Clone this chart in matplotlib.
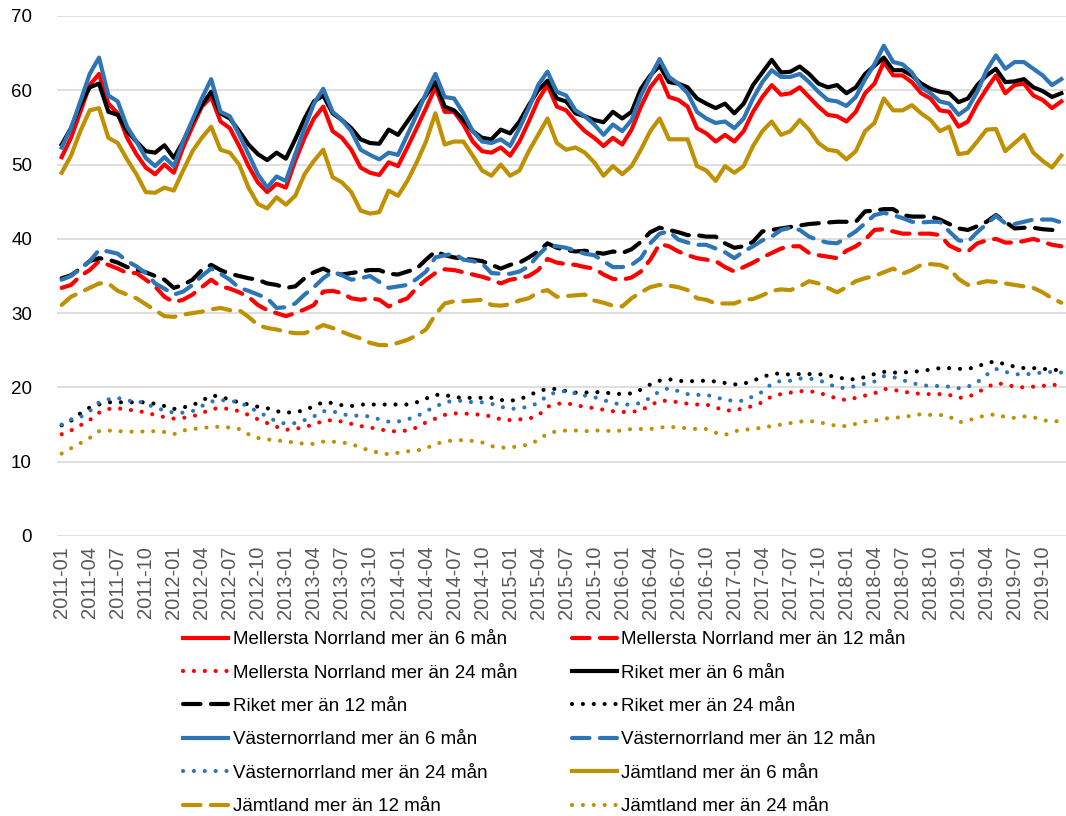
import matplotlib
matplotlib.use('Agg')
import matplotlib.pyplot as plt
import pandas as pd

# Months 2011-01 .. 2019-12
months = [p.strftime('%Y-%m') for p in pd.period_range('2011-01', '2019-12', freq='M')]

# ---- mer än 6 mån ----
mn_6 = [51.0, 53.6, 57.1, 60.7, 62.2, 58.2, 56.9, 53.6, 51.4, 49.6, 48.7, 50.0, 48.9, 52.3, 55.1, 57.8, 59.1, 55.8,
        54.9, 52.5, 49.8, 47.6, 46.3, 47.4, 46.9, 50.5, 53.6, 56.2, 57.8, 54.5, 53.6, 52.0, 49.6, 48.9, 48.6, 50.3,
        49.8, 52.3, 54.9, 57.6, 60.4, 57.1, 57.1, 55.4, 53.1, 51.8, 51.6, 52.3, 51.2, 53.1, 55.8, 58.7, 60.7, 57.8,
        57.3, 55.8, 54.5, 53.6, 52.5, 53.6, 52.7, 54.7, 57.8, 60.4, 62.0, 59.1, 58.7, 57.8, 54.9, 54.2, 53.1,
        54.0, 53.1, 54.5, 57.1, 59.1, 60.7, 59.4, 59.6, 60.4, 59.1, 57.8, 56.7, 56.5, 55.8, 57.1, 59.6, 60.9, 63.8,
        62.0, 62.0, 61.1, 59.6, 58.9, 57.3, 57.1, 55.1, 55.8, 58.2, 60.2, 62.0, 59.6, 60.7, 60.9, 59.3, 58.7, 57.6, 58.5]
riket_6 = [52.7, 54.9, 58.0, 60.4, 60.9, 57.1, 56.7, 54.5, 53.1, 51.8, 51.6, 52.6, 50.9, 53.1, 55.8, 58.0, 59.8, 56.9,
           56.2, 54.5, 52.7, 51.4, 50.6, 51.6, 50.8, 53.4, 56.2, 58.5, 59.3, 56.9, 56.0, 54.9, 53.4, 52.9, 52.8, 54.7,
           54.0, 55.8, 57.6, 59.3, 61.1, 57.8, 57.3, 56.0, 54.5, 53.6, 53.4, 54.7, 54.2, 55.8, 58.0, 60.0, 61.3, 58.9,
           58.5, 56.9, 56.5, 56.0, 55.7, 57.1, 56.2, 57.1, 60.2, 62.0, 63.3, 61.1, 60.9, 60.4, 58.9, 58.2, 57.6,
           58.2, 56.9, 58.2, 60.7, 62.4, 64.1, 62.4, 62.5, 63.2, 62.2, 60.9, 60.4, 60.7, 59.6, 60.4, 62.2, 63.3, 64.4,
           62.7, 62.7, 62.0, 60.9, 60.2, 59.8, 59.6, 58.4, 58.9, 60.7, 62.0, 62.9, 61.1, 61.2, 61.5, 60.4, 59.9, 59.1, 59.6]
vn_6 = [52.3, 54.9, 58.5, 62.2, 64.4, 59.3, 58.5, 55.1, 53.1, 50.9, 49.8, 51.0, 49.8, 53.1, 56.0, 58.9, 61.5, 57.1,
        56.5, 54.0, 51.4, 48.7, 46.9, 48.4, 47.8, 51.4, 54.9, 58.2, 60.2, 57.1, 56.0, 54.5, 52.0, 51.3, 50.7, 51.6,
        51.3, 54.0, 56.7, 59.6, 62.2, 59.1, 58.9, 56.9, 54.5, 53.1, 52.9, 53.4, 52.5, 54.9, 57.6, 60.7, 62.5, 59.8,
        59.3, 57.3, 56.5, 55.4, 54.0, 55.4, 54.5, 56.0, 59.3, 61.8, 64.2, 61.8, 60.9, 59.6, 57.1, 56.2, 55.6,
        55.8, 54.9, 56.2, 58.9, 61.1, 62.7, 61.8, 61.8, 62.2, 61.1, 59.8, 58.7, 58.5, 57.9, 59.1, 61.5, 63.5, 66.0,
        63.8, 63.5, 62.4, 60.4, 59.6, 58.5, 58.2, 56.7, 57.6, 59.8, 62.7, 64.7, 62.9, 63.8, 63.8, 62.9, 62.0, 60.7, 61.5]
jl_6 = [48.9, 51.2, 54.5, 57.3, 57.6, 53.6, 52.9, 50.7, 48.7, 46.3, 46.2, 46.9, 46.5, 49.2, 51.8, 53.6, 55.1, 52.0,
        51.6, 50.0, 46.9, 44.7, 44.1, 45.6, 44.6, 45.8, 48.7, 50.5, 52.0, 48.3, 47.6, 46.3, 43.8, 43.4, 43.6, 46.5,
        45.8, 47.8, 50.3, 53.1, 56.9, 52.7, 53.1, 53.1, 51.2, 49.2, 48.5, 50.0, 48.5, 49.2, 51.8, 54.0, 56.2, 52.9,
        52.0, 52.3, 51.6, 50.3, 48.5, 49.8, 48.7, 49.8, 52.0, 54.5, 56.2, 53.4, 53.4, 53.4, 49.8, 49.2, 47.8,
        49.8, 48.9, 49.8, 52.5, 54.5, 55.8, 54.0, 54.5, 56.0, 54.7, 52.9, 52.0, 51.8, 50.7, 51.8, 54.5, 55.6, 58.9,
        57.3, 57.3, 58.0, 56.9, 56.0, 54.5, 55.1, 51.4, 51.6, 53.1, 54.7, 54.8, 51.8, 52.9, 54.0, 51.6, 50.5, 49.6, 51.2]

# ---- mer än 12 mån ----
mn_12 = [33.4, 33.8, 35.0, 35.8, 37.0, 36.5, 36.0, 35.4, 35.4, 34.5, 33.6, 32.2, 31.5, 31.8, 32.5, 33.5, 34.5, 33.6,
         33.3, 32.8, 32.2, 31.1, 30.4, 30.0, 29.6, 30.0, 30.5, 31.1, 32.9, 33.0, 32.7, 32.0, 31.8, 32.0, 31.8, 30.9,
         31.5, 32.0, 33.4, 34.5, 35.4, 35.9, 35.8, 35.5, 35.2, 34.9, 34.5, 34.0, 34.5, 34.7, 35.0, 35.8, 37.3, 36.8,
         36.6, 36.5, 36.2, 36.0, 35.2, 34.6, 34.5, 34.8, 35.6, 37.2, 39.3, 39.0, 38.3, 37.8, 37.4, 37.2, 37.0,
         36.2, 35.6, 36.2, 36.8, 37.5, 38.1, 38.7, 39.0, 39.0, 38.1, 37.8, 37.6, 37.4, 38.4, 39.0, 39.9, 41.2, 41.3,
         41.0, 40.7, 40.7, 40.7, 40.7, 40.5, 39.1, 38.5, 38.3, 39.4, 39.8, 40.0, 39.5, 39.5, 39.7, 40.0, 39.6, 39.2, 39.0]
riket_12 = [34.7, 35.1, 36.0, 37.0, 37.4, 37.2, 36.8, 36.2, 35.9, 35.5, 35.0, 34.5, 33.4, 33.8, 34.5, 35.8, 36.5, 35.8,
            35.3, 35.0, 34.7, 34.5, 34.0, 33.8, 33.4, 33.6, 34.7, 35.5, 36.0, 35.4, 35.2, 35.4, 35.6, 35.8, 35.8, 35.3,
            35.2, 35.6, 36.0, 37.2, 38.3, 37.8, 37.5, 37.3, 37.2, 37.0, 36.5, 36.0, 36.5, 36.8, 37.5, 38.3, 39.4, 38.8,
            38.5, 38.3, 38.4, 38.2, 38.0, 38.3, 38.1, 38.6, 39.6, 40.9, 41.5, 41.2, 40.9, 40.5, 40.5, 40.3, 40.3,
            39.4, 38.8, 39.0, 39.6, 41.0, 41.2, 41.4, 41.6, 41.8, 42.0, 42.1, 42.2, 42.3, 42.3, 42.3, 43.7, 43.8, 44.0,
            44.0, 43.2, 43.0, 43.0, 43.0, 42.6, 42.0, 41.4, 41.2, 41.7, 42.3, 43.2, 42.3, 41.4, 41.5, 41.5, 41.3, 41.2, 40.9]
vn_12 = [34.5, 35.0, 36.0, 37.0, 38.5, 38.3, 38.0, 37.0, 36.3, 35.4, 34.0, 33.3, 32.5, 32.9, 33.8, 35.0, 36.0, 35.3,
         34.5, 33.4, 33.0, 32.5, 32.0, 30.7, 30.8, 31.3, 32.5, 33.5, 34.7, 35.6, 35.1, 34.5, 34.7, 35.0, 34.2, 33.4,
         33.6, 33.8, 34.6, 35.6, 37.5, 37.8, 38.0, 37.2, 37.0, 36.7, 35.4, 35.3, 35.3, 35.6, 36.3, 37.8, 39.0, 39.0,
         38.8, 38.4, 38.0, 37.8, 37.0, 36.2, 36.2, 36.5, 37.4, 39.4, 40.7, 41.0, 39.9, 39.5, 39.2, 39.2, 38.7,
         38.2, 37.4, 38.3, 39.0, 39.8, 40.3, 41.2, 41.5, 41.2, 40.3, 39.8, 39.5, 39.4, 40.2, 41.0, 42.1, 43.2, 43.5,
         43.2, 42.8, 42.3, 42.2, 42.3, 42.3, 41.0, 39.8, 39.6, 40.9, 42.0, 43.1, 42.1, 42.0, 42.3, 42.6, 42.6, 42.6, 42.2]
jl_12 = [31.1, 32.2, 32.8, 33.4, 34.0, 34.0, 33.0, 32.5, 32.0, 31.2, 30.4, 29.6, 29.5, 29.8, 30.0, 30.2, 30.5, 30.7,
         30.4, 30.4, 29.5, 28.4, 28.0, 27.8, 27.5, 27.3, 27.3, 27.8, 28.4, 28.0, 27.5, 27.0, 26.6, 26.0, 25.7, 25.7,
         26.0, 26.4, 27.0, 27.8, 29.8, 31.3, 31.6, 31.6, 31.7, 31.8, 31.1, 31.0, 31.2, 31.7, 32.0, 32.8, 33.1, 32.2,
         32.3, 32.4, 32.5, 31.7, 31.4, 31.0, 30.9, 32.0, 32.8, 33.5, 33.8, 33.7, 33.5, 33.1, 32.0, 31.8, 31.3,
         31.3, 31.3, 31.8, 31.9, 32.4, 33.0, 33.2, 33.1, 33.6, 34.3, 34.0, 33.4, 32.8, 33.5, 34.3, 34.7, 35.0, 35.5,
         36.0, 35.3, 35.8, 36.5, 36.6, 36.5, 36.0, 34.6, 33.8, 34.0, 34.3, 34.2, 34.0, 33.8, 33.6, 33.4, 32.8, 32.0, 31.4]

# ---- mer än 24 mån ----
mn_24 = [13.7, 14.2, 14.9, 15.6, 16.6, 17.1, 17.2, 17.0, 16.9, 16.6, 16.3, 16.0, 15.8, 15.9, 16.1, 16.5, 17.1, 17.2,
         17.1, 16.8, 16.3, 15.7, 15.2, 14.7, 14.3, 14.4, 14.7, 15.0, 15.5, 15.6, 15.4, 15.1, 14.8, 14.6, 14.4, 14.1,
         14.1, 14.2, 14.6, 15.3, 15.8, 16.3, 16.5, 16.5, 16.4, 16.3, 16.1, 15.7, 15.6, 15.7, 15.8, 16.2, 17.4, 17.8,
         17.9, 17.6, 17.4, 17.2, 17.0, 16.8, 16.7, 16.7, 16.9, 17.6, 18.2, 18.2, 18.0, 17.8, 17.7, 17.7, 17.3,
         16.9, 16.9, 17.2, 17.5, 18.0, 18.8, 19.1, 19.3, 19.5, 19.5, 19.3, 18.9, 18.5, 18.3, 18.6, 18.9, 19.2, 19.8,
         19.7, 19.4, 19.3, 19.1, 19.1, 19.1, 19.0, 18.6, 18.7, 19.3, 20.0, 20.6, 20.4, 20.1, 20.0, 20.1, 20.2, 20.4, 20.2]
riket_24 = [14.9, 15.5, 16.5, 17.3, 17.7, 18.0, 18.0, 18.0, 18.0, 18.0, 17.8, 17.5, 17.1, 17.3, 17.6, 18.2, 18.9, 18.8,
            18.3, 18.0, 17.7, 17.4, 17.2, 16.8, 16.6, 16.7, 16.9, 17.5, 18.0, 17.9, 17.6, 17.5, 17.7, 17.7, 17.7, 17.7,
            17.7, 17.7, 18.0, 18.5, 19.0, 19.0, 18.7, 18.6, 18.6, 18.6, 18.6, 18.3, 18.2, 18.4, 18.9, 19.5, 19.8, 19.8,
            19.5, 19.3, 19.3, 19.4, 19.3, 19.2, 19.1, 19.2, 19.7, 20.4, 20.9, 21.1, 20.9, 20.8, 20.9, 20.9, 20.8,
            20.6, 20.4, 20.5, 20.9, 21.4, 21.8, 21.9, 21.7, 21.8, 21.8, 21.8, 21.6, 21.4, 21.1, 21.1, 21.4, 21.8, 22.1,
            22.0, 22.0, 22.1, 22.2, 22.4, 22.6, 22.6, 22.5, 22.5, 22.8, 23.3, 23.5, 23.1, 22.8, 22.6, 22.6, 22.5, 22.4, 22.3]
vn_24 = [15.0, 15.7, 16.0, 16.8, 18.0, 18.4, 18.6, 18.2, 18.2, 17.8, 17.3, 16.9, 16.6, 16.6, 16.8, 17.5, 18.1, 18.3,
         18.2, 18.0, 17.4, 16.7, 16.1, 15.4, 15.1, 15.2, 15.6, 16.1, 16.8, 16.8, 16.4, 16.2, 16.2, 16.1, 15.7, 15.4,
         15.4, 15.7, 16.1, 16.8, 17.4, 18.0, 18.2, 18.2, 18.0, 18.0, 17.8, 17.4, 17.1, 17.2, 17.4, 17.9, 18.9, 19.4,
         19.5, 19.2, 18.9, 18.7, 18.3, 17.9, 17.7, 17.7, 17.9, 18.6, 19.5, 19.9, 19.5, 19.1, 19.0, 19.0, 18.7,
         18.3, 18.2, 18.2, 18.8, 19.4, 20.5, 20.9, 20.9, 21.2, 21.2, 21.0, 20.5, 20.0, 19.9, 20.2, 20.5, 20.8, 21.5,
         21.4, 21.0, 20.6, 20.3, 20.2, 20.2, 20.1, 19.9, 20.1, 20.7, 21.7, 22.5, 22.1, 21.8, 21.7, 21.9, 22.0, 22.1, 22.0]
jl_24 = [11.1, 11.8, 12.5, 13.2, 14.1, 14.2, 14.1, 14.1, 14.0, 14.1, 14.1, 14.0, 13.7, 14.2, 14.4, 14.5, 14.7, 14.7,
         14.6, 14.4, 13.7, 13.2, 13.0, 12.9, 12.7, 12.6, 12.4, 12.4, 12.7, 12.7, 12.6, 12.4, 11.9, 11.5, 11.2, 11.0,
         11.2, 11.4, 11.5, 11.8, 12.4, 12.7, 12.9, 12.9, 12.8, 12.6, 12.1, 11.9, 11.9, 12.1, 12.3, 12.9, 13.8, 14.1,
         14.2, 14.2, 14.1, 14.2, 14.2, 14.1, 14.2, 14.4, 14.4, 14.4, 14.6, 14.7, 14.6, 14.5, 14.4, 14.4, 13.9,
         13.6, 14.1, 14.3, 14.4, 14.6, 14.8, 15.0, 15.2, 15.4, 15.5, 15.3, 15.1, 14.8, 14.8, 15.1, 15.4, 15.5, 15.8,
         15.9, 16.0, 16.2, 16.4, 16.3, 16.3, 16.1, 15.3, 15.5, 16.0, 16.2, 16.4, 16.0, 15.9, 16.1, 16.0, 15.6, 15.4, 15.5]

RED, BLACK, BLUE, GOLD = '#ff0000', '#000000', '#2e75b6', '#bf9000'
LW = 3.0
SOLID = dict(linestyle='-')
DASH = dict(dashes=(4.2, 2.5), dash_capstyle='round')
DOT = dict(dashes=(0.01, 2.6), dash_capstyle='round')

series = [
    ('Mellersta Norrland mer än 6 mån', mn_6, RED, SOLID),
    ('Mellersta Norrland mer än 12 mån', mn_12, RED, DASH),
    ('Mellersta Norrland mer än 24 mån', mn_24, RED, DOT),
    ('Riket mer än 6 mån', riket_6, BLACK, SOLID),
    ('Riket mer än 12 mån', riket_12, BLACK, DASH),
    ('Riket mer än 24 mån', riket_24, BLACK, DOT),
    ('Västernorrland mer än 6 mån', vn_6, BLUE, SOLID),
    ('Västernorrland mer än 12 mån', vn_12, BLUE, DASH),
    ('Västernorrland mer än 24 mån', vn_24, BLUE, DOT),
    ('Jämtland mer än 6 mån', jl_6, GOLD, SOLID),
    ('Jämtland mer än 12 mån', jl_12, GOLD, DASH),
    ('Jämtland mer än 24 mån', jl_24, GOLD, DOT),
]

plt.rcParams['font.family'] = ['Liberation Sans', 'DejaVu Sans']

fig = plt.figure(figsize=(10.66, 8.16), dpi=100)
ax = fig.add_axes([57/1066, 1 - 536/816, 1 - 57/1066, (536 - 16)/816])

x = list(range(len(months)))
handles = []
for name, vals, col, style in series:
    h, = ax.plot(x, vals, color=col, linewidth=LW, label=name, **style)
    handles.append(h)

ax.set_xlim(-0.5, len(months) - 0.5)
ax.set_ylim(0, 70)
ax.set_yticks(range(0, 71, 10))
ax.set_xticks(x[::3])
ax.set_xticklabels(months[::3], rotation=90, color='#595959', fontsize=14.5)
ax.tick_params(axis='both', length=0)
ax.tick_params(axis='y', labelsize=13.5, colors='#000000', pad=18)
ax.tick_params(axis='x', pad=7)
ax.grid(axis='y', color='#d9d9d9', linewidth=1.2)
ax.set_axisbelow(True)
for s in ax.spines.values():
    s.set_visible(False)

# legend is read row by row in the reference, matplotlib fills by column
order = [0, 2, 4, 6, 8, 10, 1, 3, 5, 7, 9, 11]
fig.legend([handles[i] for i in order], [series[i][0] for i in order],
           loc='upper left', bbox_to_anchor=(183/1066, 1 - 631/816), ncol=2, frameon=False,
           fontsize=13.5, handlelength=2.4, handletextpad=0.25, labelspacing=0.87,
           columnspacing=2.9, borderaxespad=0, borderpad=0)

fig.savefig('out.png', dpi=100)
